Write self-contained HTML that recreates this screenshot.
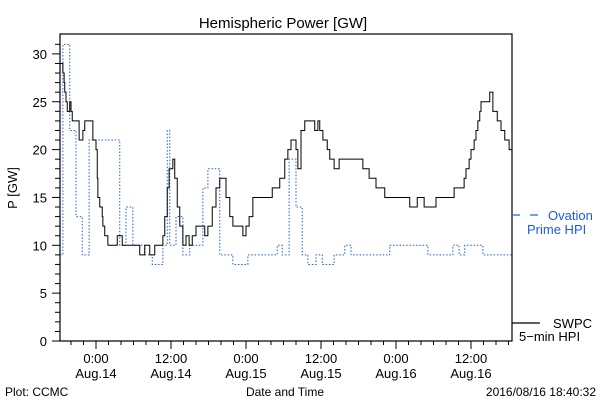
<!DOCTYPE html>
<html><head><meta charset="utf-8"><style>
html,body{margin:0;padding:0;background:#fff;}
svg{display:block;font-family:"Liberation Sans",sans-serif;}
</style></head><body>
<svg id="chart" width="600" height="400" viewBox="0 0 600 400">
<rect x="0" y="0" width="600" height="400" fill="#fff"/>
<text x="283" y="28" font-size="15" text-anchor="middle">Hemispheric Power [GW]</text>
<text transform="translate(17,188) rotate(-90)" font-size="13" text-anchor="middle">P [GW]</text>
<text x="285" y="396" font-size="12" text-anchor="middle">Date and Time</text>
<text x="5" y="396" font-size="12">Plot: CCMC</text>
<text x="596" y="396" font-size="12" text-anchor="end">2016/08/16 18:40:32</text>
<g id="axes"></g>
<g id="series"></g>
<g>
<line x1="513" y1="215" x2="520" y2="215" stroke="#1a5ce6" stroke-width="1.2"/>
<line x1="530" y1="215" x2="538" y2="215" stroke="#1a5ce6" stroke-width="1.2"/>
<text x="548" y="220" font-size="13" fill="#1a5ce6">Ovation</text>
<text x="527" y="234" font-size="13" fill="#1a5ce6">Prime HPI</text>
</g>
<g>
<line x1="512" y1="323" x2="540" y2="323" stroke="#000" stroke-width="1.2"/>
<text x="553" y="328" font-size="13">SWPC</text>
<text x="519" y="341" font-size="13">5−min HPI</text>
</g>
</svg>
<script>
// data: hours relative to 0:00 Aug.14 (step series), values in GW
const swpcHours = [-5.76,-5.3,-5.1,-5.0,-4.8,-4.6,-4.2,-4.0,-3.8,-3.2,-2.7,-2.1,-1.8,-0.6,-0.5,0,0.2,0.3,0.6,1.0,1.1,1.4,1.9,3.4,4.2,6.2,7.0,7.8,8.6,9.4,10.7,11.0,11.4,11.7,12.3,12.6,13.0,13.4,13.9,14.4,14.9,15.4,16.0,17.4,17.9,18.6,19.2,19.8,20.8,21.4,21.9,23.5,24.0,24.5,25.1,27.0,28.2,29.4,30.2,30.7,31.2,32.0,32.3,32.8,33.4,35.0,35.5,35.8,36.3,37.0,37.4,38.1,38.9,42.7,43.7,44.8,46.2,50.2,51.4,52.5,54.4,57.3,58.9,59.2,59.7,60.0,60.5,60.8,61.1,61.4,61.6,63.0,63.5,64.2,64.8,65.4,66.1];
const swpcValues = [29,28,27,26,25,24,25,24,23,23,21,22,23,23,21,20,17,15,14,13,12,11,10,11,10,10,9,10,9,10,11,13,16,18,19,17,14,12,10,11,10,11,12,11,12,14,16,17,15,13,12,11,12,13,15,15,16,17,19,20,21,20,18,22,23,22,23,22,21,20,19,18,19,18,17,16,15,14,15,14,15,16,17,18,19,20,21,22,23,24,25,26,24,23,22,21,20];
const ovationHours = [-5.76,-5.3,-4.2,-3.2,-2.2,-1.1,3.8,4.8,5.9,7.8,9.0,10.7,11.4,11.8,12.8,13.9,15.0,17.1,17.9,19.8,21.9,24.3,29.0,29.8,30.9,32.0,33.0,33.9,35.2,36.2,38.1,39.8,40.8,47.0,53.1,57.1,58.1,59.0,61.9];
const ovationValues = [9,31,22,13,9,21,10,14,10,9,8,10,22,10,13,9,10,16,18,9,8,9,10,9,19,14,9,8,9,8,9,10,9,10,9,10,9,10,9];
const yTickLabels = ["0","5","10","15","20","25","30"];
const xTickHours = [0,12,24,36,48,60];
const xTickTimes = ["0:00","12:00","0:00","12:00","0:00","12:00"];
const xTickDates = ["Aug.14","Aug.14","Aug.15","Aug.15","Aug.16","Aug.16"];

const L=60,R=512,T=34,B=341,H0=-5.76,H1=66.56;
const xs=h=>L+(h-H0)*(R-L)/(H1-H0);
const ys=v=>B-v*9.57;
const NS="http://www.w3.org/2000/svg";
function mk(tag,attrs,parent){const e=document.createElementNS(NS,tag);for(const k in attrs)e.setAttribute(k,attrs[k]);parent.appendChild(e);return e;}
const axes=document.getElementById('axes');
const frame=mk('rect',{x:L,y:T,width:R-L,height:B-T,fill:'none',stroke:'#000','stroke-width':1.2},axes);


for(let v=0;v<=31;v++){
  const len=v%5===0?8:5;
  const t=mk('line',{x1:L-len,y1:ys(v),x2:L,y2:ys(v),stroke:'#000','stroke-width':1},axes);
  
  
}
yTickLabels.forEach(s=>{
  const t=mk('text',{x:L-13,y:ys(+s)+5,'font-size':13,'text-anchor':'end'},axes);
  t.textContent=s;
  
  
});
for(let h=-4;h<=66;h+=2){
  const len=h%12===0?8:4;
  const t=mk('line',{x1:xs(h),y1:B,x2:xs(h),y2:B+len,stroke:'#000','stroke-width':1},axes);
  
  
}
xTickHours.forEach((h,i)=>{
  const a=mk('text',{x:xs(h),y:363,'font-size':13,'text-anchor':'middle'},axes);
  a.textContent=xTickTimes[i];
  
  
  const b=mk('text',{x:xs(h),y:378,'font-size':13,'text-anchor':'middle'},axes);
  b.textContent=xTickDates[i];
  
  
});
function stepPath(hs,vs){
  let d='';
  for(let i=0;i<hs.length;i++){
    const x=xs(hs[i]),y=ys(vs[i]);
    if(i===0)d+='M'+x+','+y;else d+='H'+x+'V'+y;
  }
  d+='H'+R;
  return d;
}
const g=document.getElementById('series');
const ov=mk('path',{d:stepPath(ovationHours,ovationValues),fill:'none',stroke:'#1a5ce6','stroke-width':1,'stroke-dasharray':'1.5,1.8'},g);


const sw=mk('path',{d:stepPath(swpcHours,swpcValues),fill:'none',stroke:'#000','stroke-width':1},g);


</script>
</body></html>
